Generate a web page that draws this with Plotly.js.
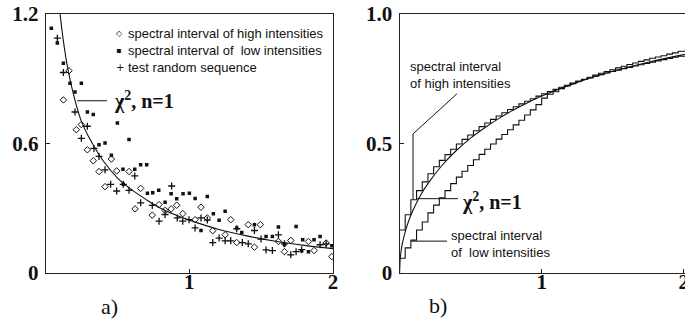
<!DOCTYPE html>
<html><head><meta charset="utf-8">
<script src="https://cdn.plot.ly/plotly-3.0.1.min.js"></script>
<style>html,body{margin:0;padding:0;background:#fff}#c{width:685px;height:325px}</style>
</head><body><div id="c"></div>
<script>
// ---- panel a) : empirical densities ----
const highX = [0.123,0.162,0.213,0.248,0.29,0.331,0.371,0.413,0.457,0.494,0.58,0.622,0.661,0.742,0.789,0.831,0.873,0.912,0.954,1.04,1.081,1.125,1.163,1.249,1.288,1.33,1.41,1.453,1.494,1.62,1.662,1.706,1.829,1.868,1.952,1.992];
const highY = [0.802,0.937,0.664,0.688,0.571,0.52,0.47,0.40,0.528,0.473,0.47,0.297,0.392,0.268,0.317,0.29,0.297,0.314,0.275,0.247,0.305,0.255,0.196,0.177,0.247,0.141,0.224,0.12,0.224,0.146,0.099,0.151,0.146,0.104,0.139,0.076];

const lowX = [0.039,0.081,0.123,0.169,0.204,0.248,0.29,0.331,0.371,0.413,0.457,0.499,0.538,0.54,0.58,0.62,0.661,0.703,0.708,0.745,0.787,0.831,0.873,0.912,0.956,1.0,1.04,1.081,1.125,1.167,1.207,1.249,1.33,1.365,1.453,1.534,1.578,1.62,1.662,1.743,1.782,1.789,1.829,1.868,1.91,1.992];
const lowY = [1.134,1.066,0.972,0.879,0.839,0.879,0.746,0.734,0.594,0.602,0.546,0.695,0.481,0.411,0.618,0.481,0.501,0.501,0.369,0.372,0.383,0.328,0.367,0.344,0.367,0.37,0.345,0.197,0.355,0.274,0.244,0.286,0.209,0.188,0.224,0.169,0.169,0.213,0.131,0.216,0.103,0.154,0.099,0.154,0.169,0.126];

const testX = [0.081,0.123,0.204,0.248,0.29,0.336,0.371,0.413,0.452,0.494,0.54,0.58,0.62,0.661,0.742,0.789,0.831,0.877,0.916,0.954,0.998,1.04,1.081,1.125,1.163,1.207,1.249,1.288,1.33,1.369,1.41,1.453,1.499,1.534,1.578,1.62,1.662,1.706,1.743,1.782,1.91,1.952];
const testY = [1.088,0.929,0.746,0.624,0.68,0.577,0.54,0.478,0.411,0.38,0.411,0.383,0.45,0.325,0.313,0.24,0.271,0.403,0.255,0.24,0.247,0.209,0.255,0.245,0.141,0.162,0.149,0.149,0.205,0.141,0.135,0.197,0.157,0.107,0.104,0.177,0.135,0.084,0.099,0.108,0.131,0.135];

const pdfX = [0.095,0.1,0.12,0.15,0.2,0.25,0.3,0.4,0.5,0.6,0.7,0.8,0.9,1,1.2,1.4,1.6,1.8,2];
const pdfY = [1.23,1.2,1.09,0.96,0.81,0.70,0.63,0.52,0.44,0.385,0.34,0.30,0.27,0.245,0.203,0.172,0.147,0.128,0.113];

// ---- panel b) : cumulative distributions ----
const stepX = [0,0,0.04,0.08,0.12,0.16,0.2,0.24,0.28,0.32,0.36,0.4,0.44,0.48,0.52,0.56,0.6,0.64,0.68,0.72,0.76,0.8,0.84,0.88,0.92,0.96,1,1.04,1.08,1.12,1.16,1.2,1.24,1.28,1.32,1.36,1.4,1.44,1.48,1.52,1.56,1.6,1.64,1.68,1.72,1.76,1.8,1.84,1.88,1.92,1.96,2.04];
const highStep = [0,0.166,0.225,0.283,0.318,0.352,0.383,0.41,0.435,0.457,0.478,0.498,0.516,0.533,0.549,0.565,0.579,0.593,0.606,0.619,0.631,0.642,0.653,0.663,0.673,0.683,0.692,0.701,0.709,0.717,0.725,0.733,0.74,0.747,0.753,0.76,0.766,0.772,0.778,0.783,0.789,0.794,0.799,0.804,0.809,0.814,0.819,0.824,0.828,0.833,0.837,0.837];
const lowStep = [0,0.057,0.097,0.127,0.166,0.197,0.232,0.262,0.29,0.318,0.345,0.37,0.393,0.415,0.437,0.458,0.478,0.498,0.517,0.535,0.553,0.572,0.59,0.61,0.63,0.65,0.675,0.69,0.70,0.712,0.722,0.731,0.74,0.748,0.756,0.764,0.771,0.778,0.785,0.792,0.798,0.805,0.811,0.817,0.823,0.829,0.834,0.839,0.845,0.85,0.856,0.856];

const cdfX = [0,0.005,0.01,0.02,0.04,0.06,0.08,0.1,0.15,0.2,0.3,0.4,0.5,0.6,0.7,0.8,0.9,1,1.25,1.5,1.75,2,2.05];
const cdfY = [0,0.056,0.08,0.113,0.159,0.194,0.223,0.248,0.302,0.345,0.416,0.473,0.521,0.561,0.597,0.629,0.657,0.683,0.736,0.779,0.814,0.843,0.848];

const legendNames = ['spectral interval of high intensities','spectral interval of\u00a0 low intensities','test random sequence'];
const legendSymbols = ['\u25C7','\u25AA','+'];
const tickA = {x:[1,2], y:[0,0.6,1.2], yText:['0','0.6','1.2']};
const tickB = {x:[1,2], y:[0,0.5,1], yText:['0','0.5','1.0']};

const K = '#111';
const traces = [
  {x:highX, y:highY, xaxis:'x', yaxis:'y', mode:'markers', name:legendNames[0],
   marker:{symbol:'diamond-open', size:5, color:K, line:{width:1, color:K}}},
  {x:lowX, y:lowY, xaxis:'x', yaxis:'y', mode:'markers', name:legendNames[1],
   marker:{symbol:'square', size:3.5, color:K}},
  {x:testX, y:testY, xaxis:'x', yaxis:'y', mode:'markers', name:legendNames[2],
   marker:{symbol:'cross-thin-open', size:5, color:K, line:{width:1.3, color:K}}},
  {x:pdfX, y:pdfY, xaxis:'x', yaxis:'y', mode:'lines',
   line:{color:K, width:1.1, shape:'spline'}},
  {x:cdfX, y:cdfY, xaxis:'x2', yaxis:'y2', mode:'lines',
   line:{color:K, width:1.1, shape:'spline'}},
  {x:stepX, y:highStep, xaxis:'x2', yaxis:'y2', mode:'lines',
   line:{color:K, width:1.1, shape:'hv'}},
  {x:stepX, y:lowStep, xaxis:'x2', yaxis:'y2', mode:'lines',
   line:{color:K, width:1.1, shape:'hv'}}
];

const tf = {family:'Liberation Serif, Times New Roman, serif', size:21, color:K, weight:'bold'};
function ax(extra){
  return Object.assign({showline:true, mirror:true, linecolor:'#222', linewidth:1,
    showgrid:false, zeroline:false, ticks:'inside', ticklen:4, tickcolor:'#222',
    tickfont:tf, fixedrange:true, ticklabeloverflow:'allow'}, extra);
}
const W = 685, H = 325;
const yDom = [1-273/H, 1-14/H];
const sans = {family:'Liberation Sans, Arial, sans-serif', size:13, color:K};
const serif = {family:'Liberation Serif, Times New Roman, serif', size:22, color:K};
const symFont = {family:'DejaVu Sans, sans-serif', size:8, color:K};
const layout = {
  width:W, height:H, margin:{l:0,r:0,t:0,b:0},
  paper_bgcolor:'#fff', plot_bgcolor:'#fff',
  showlegend:false,
  xaxis: ax({domain:[45.7/W, 333/W], range:[0,2], tickvals:tickA.x, anchor:'y', ticklabelstandoff:-10}),
  yaxis: ax({domain:yDom, range:[0,1.2], tickvals:tickA.y, ticktext:tickA.yText, anchor:'x', ticklabelstandoff:2}),
  xaxis2: ax({domain:[399.5/W, 1], range:[0,2.008], tickvals:tickB.x, anchor:'y2', ticklabelstandoff:-10}),
  yaxis2: ax({domain:yDom, range:[0,1.0], tickvals:tickB.y, ticktext:tickB.yText, anchor:'x2', ticklabelstandoff:2}),
  shapes:[
    {type:'line', xref:'x', yref:'y', x0:0.218, y0:0.798, x1:0.427, y1:0.798, line:{color:K, width:1}},
    {type:'path', xref:'x2', yref:'y2', path:'M 0.404 0.692 L 0.095 0.537 L 0.095 0.283', line:{color:K, width:1}},
    {type:'line', xref:'x2', yref:'y2', x0:0.123, y0:0.287, x1:0.411, y1:0.287, line:{color:K, width:1}},
    {type:'line', xref:'x2', yref:'y2', x0:0.081, y0:0.123, x1:0.334, y1:0.123, line:{color:K, width:1}}
  ],
  annotations:[
    {xref:'paper', yref:'paper', x:99/W, y:1-306/H, yanchor:'middle', text:'a)', showarrow:false, font:serif},
    {xref:'paper', yref:'paper', x:438/W, y:1-305/H, yanchor:'middle', text:'b)', showarrow:false, font:serif},
    // legend of panel a)
    {xref:'paper', yref:'paper', x:126/W, y:1-24/H, xanchor:'left', yanchor:'top', align:'left',
     text:legendNames.join('<br>'), showarrow:false, font:sans},
    {xref:'paper', yref:'paper', x:114/W, y:1-33/H, yanchor:'middle', text:legendSymbols[0], showarrow:false, font:symFont},
    {xref:'paper', yref:'paper', x:114/W, y:1-50/H, yanchor:'middle', text:legendSymbols[1], showarrow:false, font:symFont},
    {xref:'paper', yref:'paper', x:114/W, y:1-67/H, yanchor:'middle', text:legendSymbols[2], showarrow:false, font:{family:'DejaVu Sans, sans-serif', size:10, color:K}},
    {xref:'x', yref:'y', x:0.462, y:0.80, xanchor:'left', text:'<b>χ<sup>2</sup>, n=1</b>', showarrow:false,
     font:{family:'Liberation Serif, Times New Roman, serif', size:20, color:K}},
    {xref:'x2', yref:'y2', x:0.425, y:0.277, xanchor:'left', text:'<b>χ<sup>2</sup>, n=1</b>', showarrow:false,
     font:{family:'Liberation Serif, Times New Roman, serif', size:20, color:K}},
    {xref:'x2', yref:'y2', x:0.062, y:0.764, xanchor:'left', align:'left', text:'spectral interval<br>of high intensities', showarrow:false, font:sans},
    {xref:'x2', yref:'y2', x:0.35, y:0.112, xanchor:'left', align:'left', text:'spectral interval<br>of\u00a0 low intensities', showarrow:false, font:sans}
  ]
};
Plotly.newPlot('c', traces, layout, {staticPlot:true, displayModeBar:false});
</script></body></html>
